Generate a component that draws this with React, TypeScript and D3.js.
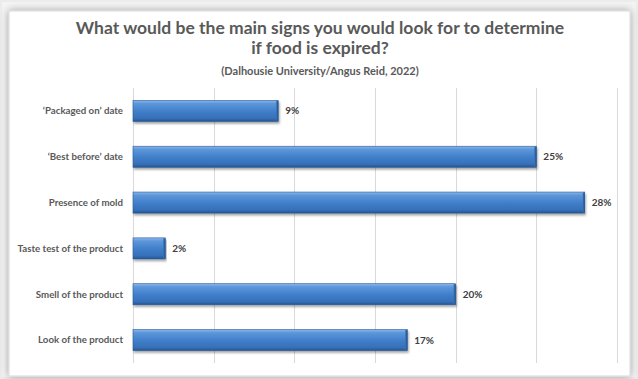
import React from "react";
import * as d3 from "d3";

const categories = [
  "‘Packaged on’ date",
  "‘Best before’ date",
  "Presence of mold",
  "Taste test of the product",
  "Smell of the product",
  "Look of the product",
];
const values = [9, 25, 28, 2, 20, 17];
const xTicks = [0, 5, 10, 15, 20, 25, 30];
const titleLines = [
  "What would be the main signs you would look for to determine",
  "if food is expired?",
];
const subtitle = "(Dalhousie University/Angus Reid, 2022)";

const W = 638;
const H = 379;
const plot = { left: 133, right: 617, top: 88, bottom: 363 };
const font = "Lato, 'Open Sans', sans-serif";

export default function App() {
  const x = d3.scaleLinear().domain([0, 30]).range([plot.left, plot.right]);
  const y = d3
    .scaleBand<string>()
    .domain(categories)
    .range([plot.top, plot.bottom])
    .paddingInner(0.54)
    .paddingOuter(0.27);
  const bh = y.bandwidth();

  return (
    <svg
      width={W}
      height={H}
      style={{ position: "fixed", left: 0, top: 0, display: "block" }}
    >
      <defs>
        <linearGradient id="barGrad" x1="0" y1="0" x2="0" y2="1">
          <stop offset="0" stopColor="#8ab8ec" />
          <stop offset="0.15" stopColor="#5d97da" />
          <stop offset="0.55" stopColor="#3f7dc8" />
          <stop offset="0.85" stopColor="#3670b8" />
          <stop offset="1" stopColor="#25548f" />
        </linearGradient>
        <linearGradient id="endGrad" x1="0" y1="0" x2="1" y2="0">
          <stop offset="0" stopColor="#3a74bd" />
          <stop offset="1" stopColor="#244f86" />
        </linearGradient>
        <filter id="frameShadow" x="-5%" y="-5%" width="110%" height="110%">
          <feGaussianBlur in="SourceAlpha" stdDeviation="4" />
          <feOffset dx="0" dy="0" result="b" />
          <feComponentTransfer>
            <feFuncA type="linear" slope="0.35" />
          </feComponentTransfer>
          <feMerge>
            <feMergeNode />
            <feMergeNode in="SourceGraphic" />
          </feMerge>
        </filter>
        <filter id="barShadow" x="-5%" y="-20%" width="110%" height="160%">
          <feGaussianBlur in="SourceAlpha" stdDeviation="1.2" />
          <feOffset dx="1" dy="1.5" />
          <feComponentTransfer>
            <feFuncA type="linear" slope="0.35" />
          </feComponentTransfer>
          <feMerge>
            <feMergeNode />
            <feMergeNode in="SourceGraphic" />
          </feMerge>
        </filter>
      </defs>
      <rect x={0} y={0} width={W} height={H} fill="#ececec" />
      <rect x={2} y={2} width={W - 4} height={H - 4} fill="#f4f4f4" />
      <rect
        x={9}
        y={11}
        width={621}
        height={365}
        fill="#ffffff"
        stroke="#d9d9d9"
        strokeWidth={1}
        filter="url(#frameShadow)"
      />
      <g fontFamily={font} textAnchor="middle" fill="#595959" fontWeight="bold">
        {titleLines.map((t, i) => (
          <text key={i} x={320} y={34 + i * 20} fontSize={17.5}>
            {t}
          </text>
        ))}
        <text x={320} y={75} fontSize={11}>
          {subtitle}
        </text>
      </g>
      <g>
        {xTicks.map((t) => (
          <line
            key={t}
            x1={Math.round(x(t)) + 0.5}
            x2={Math.round(x(t)) + 0.5}
            y1={plot.top}
            y2={plot.bottom}
            stroke="#d9d9d9"
            strokeWidth={1}
          />
        ))}
      </g>
      <g>
        {categories.map((c, i) => {
          const y0 = y(c)!;
          const x1 = x(values[i]);
          return (
            <g key={c} filter="url(#barShadow)">
              <rect
                x={x(0)}
                y={y0}
                width={x1 - x(0)}
                height={bh}
                fill="url(#barGrad)"
                stroke="#2b5a96"
                strokeWidth={0.6}
              />
              <rect
                x={x1 - 2}
                y={y0 + 0.5}
                width={2}
                height={bh - 1}
                fill="url(#endGrad)"
              />
            </g>
          );
        })}
      </g>
      <g fontFamily={font} fontWeight="bold">
        {categories.map((c) => (
          <text
            key={c}
            x={123}
            y={y(c)! + bh / 2}
            dy="0.35em"
            textAnchor="end"
            fontSize={9.7}
            fill="#595959"
          >
            {c}
          </text>
        ))}
        {categories.map((c, i) => (
          <text
            key={c + "v"}
            x={x(values[i]) + 7}
            y={y(c)! + bh / 2}
            dy="0.35em"
            fontSize={10}
            fill="#404040"
          >
            {values[i] + "%"}
          </text>
        ))}
      </g>
    </svg>
  );
}
